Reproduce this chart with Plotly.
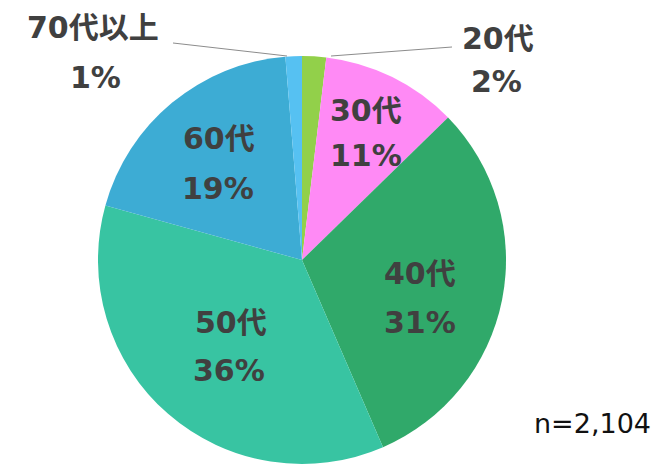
import plotly.graph_objects as go

W, H = 656, 465

# data
categories = ["20代", "30代", "40代", "50代", "60代", "70代以上"]
values = [1.9, 10.8, 30.8, 35.8, 19.4, 1.3]
pct_labels = ["2%", "11%", "31%", "36%", "19%", "1%"]
colors = ["#92D04A", "#FF8AF5", "#30A96A", "#38C4A2", "#3DACD4", "#56C1F2"]
note = "n=2,104"

# pie geometry in pixels
cx, cy, r = 302, 260, 204

fig = go.Figure(go.Pie(
    labels=categories, values=values, sort=False, direction="clockwise",
    rotation=0, textinfo="none", hoverinfo="label+percent",
    marker=dict(colors=colors, line=dict(width=0)),
    domain=dict(x=[(cx - r) / W, (cx + r) / W], y=[(H - cy - r) / H, (H - cy + r) / H]),
    showlegend=False,
))

def px(x, y):
    return x / W, 1 - y / H

# label positions (pixel centres): name, percent
label_pos = {
    "20代": ((498, 38), (497, 82)),
    "30代": ((366, 110), (366, 156)),
    "40代": ((420, 273), (420, 322)),
    "50代": ((231, 322), (229, 370)),
    "60代": ((219, 138), (218, 188)),
    "70代以上": ((93, 28), (95, 78)),
}
font = dict(family="DejaVu Sans, Noto Sans CJK JP", size=30, color="#404040")
anns = []
for cat, pct in zip(categories, pct_labels):
    (nx, ny), (qx, qy) = label_pos[cat]
    for (x, y), t in (((nx, ny), cat), ((qx, qy), pct)):
        ax, ay = px(x, y)
        anns.append(dict(x=ax, y=ay, xref="paper", yref="paper", text="<b>" + t + "</b>",
                         showarrow=False, font=font, xanchor="center", yanchor="middle"))
nx_, ny_ = px(592, 423)
anns.append(dict(x=nx_, y=ny_, xref="paper", yref="paper", text=note, showarrow=False,
                 font=dict(family="DejaVu Sans", size=27, color="#111111"),
                 xanchor="center", yanchor="middle"))

shapes = []
for (x0, y0, x1, y1) in [(173, 43, 287, 56), (331, 56, 452, 47)]:
    a0, b0 = px(x0, y0)
    a1, b1 = px(x1, y1)
    shapes.append(dict(type="line", xref="paper", yref="paper", x0=a0, y0=b0, x1=a1, y1=b1,
                       line=dict(color="#8c8c8c", width=1)))

fig.update_layout(width=W, height=H, margin=dict(l=0, r=0, t=0, b=0),
                  paper_bgcolor="white", plot_bgcolor="white",
                  annotations=anns, shapes=shapes)
fig.write_html("out.html", config={"displayModeBar": False},
               post_script="document.body.style.margin='0';")
